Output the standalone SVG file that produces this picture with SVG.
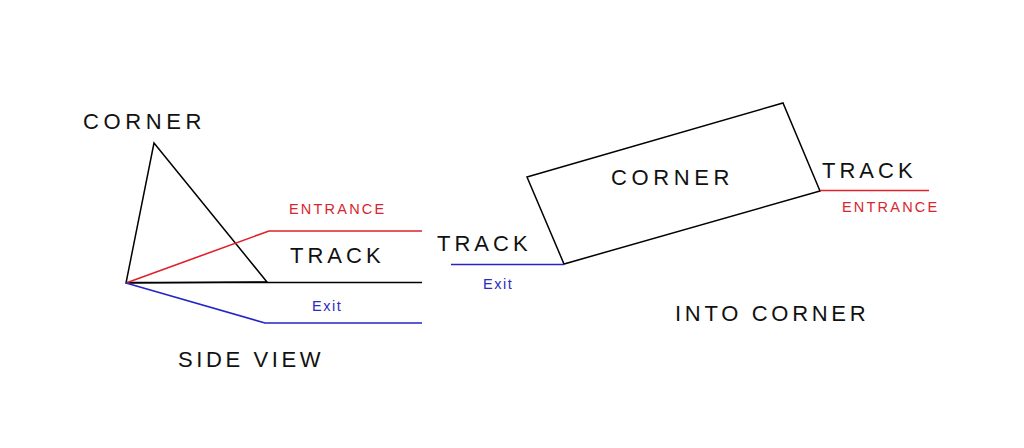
<svg xmlns="http://www.w3.org/2000/svg" width="1024" height="448" viewBox="0 0 1024 448">
<style>
.k{fill:none;stroke:#000;stroke-width:1.5;stroke-linejoin:miter}
.r{fill:none;stroke:#e0202a;stroke-width:1.6}
.b{fill:none;stroke:#2424c8;stroke-width:1.6}
.big{font-family:"Liberation Sans",Arial,sans-serif;font-size:22px;fill:#111;letter-spacing:4.6px}
.trk{letter-spacing:4px}
.sm{font-family:"Liberation Sans",Arial,sans-serif;font-size:14.5px;letter-spacing:2.2px}
.rt{fill:#d8262e}
.bt{fill:#2a2ac4}
</style>
<rect width="1024" height="448" fill="#fff"/>
<g id="side-view">
  <g id="side-corner">
    <polygon class="k" points="154,143 126,283 267,282"/>
    <text class="big" x="83" y="129">CORNER</text>
  </g>
  <g id="side-track">
    <line class="k" x1="126" y1="282.5" x2="422" y2="282.5"/>
    <text class="big trk" x="290" y="263">TRACK</text>
  </g>
  <g id="side-entrance">
    <polyline class="r" points="126,283 269,231 422,231"/>
    <text class="sm rt" x="289" y="214">ENTRANCE</text>
  </g>
  <g id="side-exit">
    <polyline class="b" points="126,283 265,323 422,323"/>
    <text class="sm bt" x="312" y="311" style="letter-spacing:1.5px">Exit</text>
  </g>
  <text class="big" x="178" y="367" style="letter-spacing:3.6px">SIDE VIEW</text>
</g>
<g id="into-corner">
  <g id="top-corner">
    <polygon class="k" points="527,177 783,103 820,191 564,264"/>
    <text class="big" x="611" y="185">CORNER</text>
  </g>
  <g id="top-exit">
    <line class="b" x1="451" y1="264.5" x2="564" y2="264.5"/>
    <text class="big trk" x="437" y="251">TRACK</text>
    <text class="sm bt" x="483" y="289" style="letter-spacing:1.5px">Exit</text>
  </g>
  <g id="top-entrance">
    <line class="r" x1="820" y1="190.5" x2="929" y2="190.5"/>
    <text class="big trk" x="822" y="178">TRACK</text>
    <text class="sm rt" x="842" y="212">ENTRANCE</text>
  </g>
  <text class="big" x="675" y="321" style="letter-spacing:3.7px">INTO CORNER</text>
</g>
</svg>
